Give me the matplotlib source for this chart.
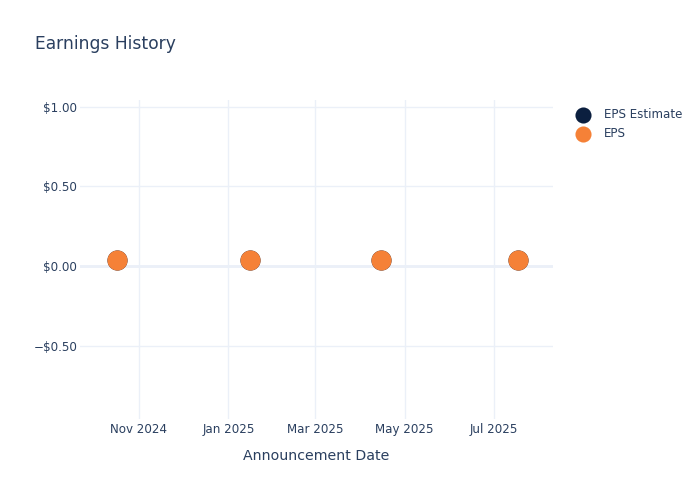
import matplotlib
matplotlib.use("Agg")
import matplotlib.pyplot as plt
from matplotlib.ticker import FuncFormatter
import datetime as dt

dates = ["2024-10-17", "2025-01-16", "2025-04-15", "2025-07-17"]
eps_estimate = [0.04, 0.04, 0.04, 0.04]
eps_actual = [0.04, 0.04, 0.04, 0.04]
xtick_dates = ["2024-11-01", "2025-01-01", "2025-03-01", "2025-05-01", "2025-07-01"]
xtick_labels = ["Nov 2024", "Jan 2025", "Mar 2025", "May 2025", "Jul 2025"]
ytick_values = [-0.5, 0.0, 0.5, 1.0]

TEXT = "#2a3f5f"
GRID = "#EBF0F8"
NAVY = "#0B1F3F"
ORANGE = "#F58137"

plt.rcParams['font.family'] = ['DejaVu Sans']

x = [dt.datetime.strptime(d, "%Y-%m-%d") for d in dates]
xt = [dt.datetime.strptime(d, "%Y-%m-%d") for d in xtick_dates]

fig = plt.figure(figsize=(7, 5), dpi=100)
ax = fig.add_axes([80/700, 1-419/500, (553-80)/700, (419-100)/500])

ax.scatter(x, eps_estimate, s=210, color=NAVY, zorder=3, label="EPS Estimate", linewidths=0)
ax.scatter(x, eps_actual, s=210, color=ORANGE, zorder=4, label="EPS", linewidths=0)

ax.set_xlim(dt.datetime(2024, 9, 22), dt.datetime(2025, 8, 10))
ax.set_ylim(-0.958, 1.042)

ax.set_xticks(xt)
ax.set_xticklabels(xtick_labels)
ax.set_yticks(ytick_values)
ax.yaxis.set_major_formatter(FuncFormatter(lambda v, p: ("\u2212$%.2f" % abs(v)) if v < 0 else "$%.2f" % v))

ax.grid(True, color=GRID, linewidth=1, zorder=0)
ax.axhline(0, color=GRID, linewidth=2, zorder=1)
for s in ax.spines.values():
    s.set_visible(False)
ax.tick_params(axis='both', length=0, colors=TEXT, labelsize=8.6)
ax.tick_params(axis='x', pad=3)
ax.tick_params(axis='y', pad=2)

ax.set_xlabel("Announcement Date", color=TEXT, fontsize=10.2, labelpad=9)
fig.text(35/700, 1-44/500, "Earnings History", color=TEXT, fontsize=12.3, va='center', ha='left')

leg = fig.legend(handles=ax.collections[:2], labels=["EPS Estimate", "EPS"],
                 loc='upper left', bbox_to_anchor=(571/700, 1-108/500), frameon=False,
                 fontsize=8.6, markerscale=0.8, handletextpad=0.75, labelspacing=0.5,
                 handlelength=2.0, borderaxespad=0, borderpad=0)
for t in leg.get_texts():
    t.set_color(TEXT)

fig.savefig("out.png", dpi=100, facecolor="white")
